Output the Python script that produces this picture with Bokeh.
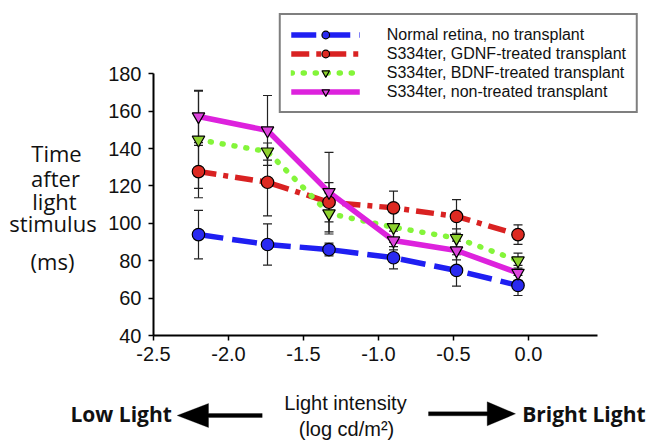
from bokeh.plotting import figure
from bokeh.layouts import row, column
from bokeh.models import (Range1d, FixedTicker, Legend, LegendItem, Label, Whisker,
                          TeeHead, PolyAnnotation, ColumnDataSource, PrintfTickFormatter)
from bokeh.embed import file_html
from bokeh.resources import INLINE

# ---------------- data ----------------
light_log = [-2.2, -1.74, -1.33, -0.9, -0.48, -0.07]

normal_ms = [94.0, 88.7, 86.0, 81.6, 74.8, 66.8]
normal_err = [13.0, 11.0, 3.4, 6.0, 8.4, 5.4]

gdnf_ms = [127.7, 122.0, 111.3, 108.3, 103.7, 94.0]
gdnf_err = [14.0, 18.0, 10.5, 9.0, 9.0, 5.2]

bdnf_ms = [144.7, 138.4, 105.3, 97.9, 92.1, 80.1]
bdnf_err = [26.0, 4.6, 11.0, 8.0, 5.0, 4.0]

nontreated_ms = [157.2, 149.7, 116.7, 90.8, 85.5, 73.5]
nontreated_err = [14.0, 18.7, 21.3, 5.0, 5.0, 4.0]

series_names = ["Normal retina, no transplant",
                "S334ter, GDNF-treated transplant",
                "S334ter, BDNF-treated transplant",
                "S334ter, non-treated transplant"]

x_ticks = [-2.5, -2.0, -1.5, -1.0, -0.5, 0.0]
y_ticks = [40, 60, 80, 100, 120, 140, 160, 180]

# ---------------- geometry (page pixels) ----------------
PAGE_W, PAGE_H = 648, 440
LEFT_W = 98             # panel holding the stacked y title
TOP_H = 375             # height of the upper row
MAIN_W = PAGE_W - LEFT_W
BL, BR, BT, BB = 55, 10, 13, 40
XPX = 150.0             # px per x unit
YPX = 1.869             # px per y unit
X0 = -2.5
X1 = X0 + (MAIN_W - BL - BR) / XPX
Y0 = 40.0
Y1 = Y0 + (TOP_H - BT - BB) / YPX

# ---------------- main chart ----------------
p = figure(width=MAIN_W, height=TOP_H, output_backend="svg", toolbar_location=None,
           x_range=Range1d(X0, X1), y_range=Range1d(Y0, Y1),
           min_border_left=BL, min_border_right=BR, min_border_top=BT,
           min_border_bottom=BB)
p.outline_line_color = None
p.xgrid.visible = False
p.ygrid.visible = False
p.background_fill_color = "white"
p.border_fill_color = "white"

for ax in (p.xaxis[0], p.yaxis[0]):
    ax.axis_line_width = 2
    ax.axis_line_color = "black"
    ax.major_tick_line_width = 1.5
    ax.major_tick_line_color = "black"
    ax.major_tick_out = 5
    ax.major_tick_in = 0
    ax.minor_tick_line_color = None
    ax.major_label_text_font = "Liberation Sans"
    ax.major_label_text_font_size = "20px"
    ax.major_label_text_color = "#111111"

p.xaxis.bounds = (-2.5, 0.46)
p.xaxis.ticker = FixedTicker(ticks=x_ticks)
p.xaxis.formatter = PrintfTickFormatter(format="%.1f")
p.xaxis.major_label_standoff = 6
p.yaxis.bounds = (40, 180)
p.yaxis.ticker = FixedTicker(ticks=y_ticks)
p.yaxis.major_label_standoff = 7

# error bars
all_x, all_up, all_lo = [], [], []
for vals, errs in [(normal_ms, normal_err), (gdnf_ms, gdnf_err),
                   (bdnf_ms, bdnf_err), (nontreated_ms, nontreated_err)]:
    for xv, v, e in zip(light_log, vals, errs):
        all_x.append(xv)
        all_up.append(v + e)
        all_lo.append(v - e)
err_src = ColumnDataSource(dict(x=all_x, upper=all_up, lower=all_lo))
wh = Whisker(source=err_src, base="x", upper="upper", lower="lower",
             line_color="#222222", line_width=1.2,
             upper_head=TeeHead(size=9, line_width=1.2, line_color="#222222"),
             lower_head=TeeHead(size=9, line_width=1.2, line_color="#222222"))
wh.level = "underlay"
p.add_layout(wh)

styles = [
    dict(vals=normal_ms, color="#1f1ff2", dash="25 9", cap="butt", marker="circle", fill="#2a2af0"),
    dict(vals=gdnf_ms, color="#d92222", dash="18 7 5 7", cap="butt", marker="circle", fill="#dd2a22"),
    dict(vals=bdnf_ms, color="#84f53a", dash="1 11", cap="round", marker="inverted_triangle", fill="#8ed12e"),
    dict(vals=nontreated_ms, color="#dd22dd", dash="solid", cap="butt", marker="inverted_triangle", fill="#dd44dd"),
]

line_rs = []
for s in styles:
    r = p.line(light_log, s["vals"], line_color=s["color"], line_width=5.5,
               line_dash=s["dash"], line_cap=s["cap"])
    line_rs.append(r)

marker_rs = []
for s in styles:
    r = p.scatter(light_log, s["vals"], marker=s["marker"], size=12.5,
                  fill_color=s["fill"], line_color="black", line_width=1.2)
    marker_rs.append(r)

items = [LegendItem(label=n, renderers=[lr, mr])
         for n, lr, mr in zip(series_names, line_rs, marker_rs)]
legend = Legend(items=items, location="top_right", margin=0, padding=10,
                spacing=0, glyph_width=69, glyph_height=19, label_height=19,
                label_standoff=27, label_text_font="Liberation Sans",
                label_text_font_size="16px", label_text_color="#111111",
                border_line_color="black", border_line_width=2.5,
                background_fill_color="white", background_fill_alpha=1)
p.add_layout(legend)

# ---------------- left panel: stacked y title (data coords = page px) ----------------
left = figure(width=LEFT_W, height=TOP_H, output_backend="svg", toolbar_location=None,
              x_range=Range1d(0, LEFT_W), y_range=Range1d(TOP_H - BB, BT),
              x_axis_location=None, y_axis_location=None,
              min_border_left=0, min_border_right=0,
              min_border_top=BT, min_border_bottom=BB, outline_line_color=None)
left.xgrid.visible = False
left.ygrid.visible = False
ylab = [("Time", 56, 152), ("after", 55, 177.5), ("light", 54, 200.5),
        ("stimulus", 52.5, 222), ("(ms)", 52, 260.5)]
for t, cx, by in ylab:
    left.add_layout(Label(x=cx, y=by, text=t, text_align="center",
                          text_baseline="alphabetic", text_font="Open Sans",
                          text_font_size="22px", text_color="#111111"))

# ---------------- bottom panel: x title and arrows (data coords = page px) ----------------
BOT_H = PAGE_H - TOP_H
bottom = figure(width=PAGE_W, height=BOT_H, output_backend="svg", toolbar_location=None,
                x_range=Range1d(0, PAGE_W), y_range=Range1d(PAGE_H, TOP_H),
                x_axis_location=None, y_axis_location=None,
                min_border=0, outline_line_color=None)
bottom.xgrid.visible = False
bottom.ygrid.visible = False

bottom.add_layout(Label(x=345, y=402.5, text="Light intensity",
                        text_align="center", text_baseline="alphabetic",
                        text_font="Liberation Sans", text_font_size="20px",
                        text_color="#111111"))
bottom.add_layout(Label(x=346, y=428, text="(log cd/m\u00b2)",
                        text_align="center", text_baseline="alphabetic",
                        text_font="Liberation Sans", text_font_size="20px",
                        text_color="#111111"))
bottom.add_layout(Label(x=70, y=413.5, text="Low Light",
                        text_align="left", text_baseline="alphabetic",
                        text_font="Open Sans", text_font_style="bold",
                        text_font_size="21px", text_color="#111111"))
bottom.add_layout(Label(x=521.7, y=413.5, text="Bright Light",
                        text_align="left", text_baseline="alphabetic",
                        text_font="Open Sans", text_font_style="bold",
                        text_font_size="21px", text_color="#111111"))

def arrow(tip, base, tail, cy, hh=12, sh=2):
    xs = [tip, base, base, tail, tail, base, base]
    ys = [cy, cy - hh, cy - sh, cy - sh, cy + sh, cy + sh, cy + hh]
    return PolyAnnotation(xs=xs, ys=ys, fill_color="black", fill_alpha=1,
                          line_color="black", line_width=1)

bottom.add_layout(arrow(176.7, 208, 261.7, 415))
bottom.add_layout(arrow(515, 486.7, 428, 413.3))

layout = column(row(left, p), bottom)
open("out.html", "w").write(file_html(layout, INLINE))
